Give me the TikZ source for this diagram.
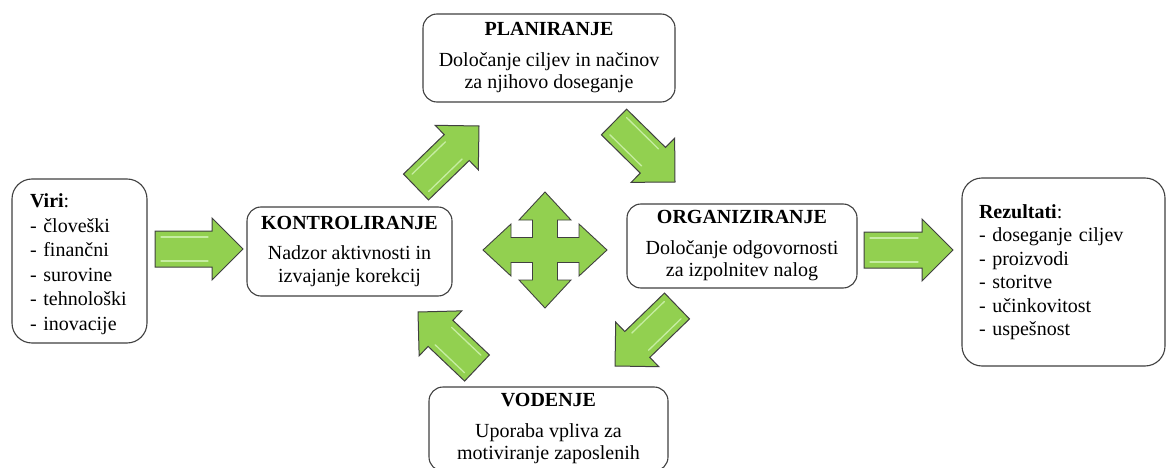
\documentclass[tikz,border=0pt]{standalone}
\usepackage{fontspec}
\setmainfont{Liberation Serif}
\usetikzlibrary{calc}

\definecolor{arrowgreen}{HTML}{92D050}
\definecolor{hilitegreen}{HTML}{C6EDA2}
\definecolor{boxline}{HTML}{404040}

% block arrow from tail (#1) to tip (#2)
\newcommand{\blockarrow}[2]{%
  \coordinate (hb) at ($(#2)!31pt!(#1)$);
  \draw[bigarrow] ($(#1)!18pt!90:(#2)$) -- ($(hb)!18pt!-90:(#1)$) -- ($(hb)!31pt!-90:(#1)$)
    -- (#2) -- ($(hb)!31pt!90:(#1)$) -- ($(hb)!18pt!90:(#1)$) -- ($(#1)!18pt!-90:(#2)$) -- cycle;
  \coordinate (t0) at ($(#1)!6pt!(#2)$);
  \coordinate (h0) at ($(hb)!4pt!(#1)$);
  \draw[hilite] ($(t0)!12pt!90:(#2)$) -- ($(h0)!12pt!-90:(#1)$);
  \draw[hilite] ($(t0)!12pt!-90:(#2)$) -- ($(h0)!12pt!90:(#1)$);
}

\begin{document}
\begin{tikzpicture}[
  x=1pt, y=-1pt,
  stepbox/.style={draw=boxline, line width=1.1pt, rounded corners=14pt, fill=white,
    align=center, inner sep=0pt, font=\fontsize{20}{22.5}\selectfont},
  listbox/.style={draw=boxline, line width=1.1pt, rounded corners=20pt, fill=white,
    align=left, inner ysep=0pt},
  bigarrow/.style={draw=boxline, line width=1pt, fill=arrowgreen, line join=miter},
  hilite/.style={draw=hilitegreen, line width=1.3pt, line cap=round},
  crossarrow/.style={draw=boxline, line width=0.9pt, fill=arrowgreen}
]
  \useasboundingbox (0,0) rectangle (1167,468);

  % Boxes
  \node[listbox, font=\fontsize{20}{24.5}\selectfont, text width=99pt, inner xsep=18pt,
    minimum height=164pt] (viri) at (79.5,261)
    {\rule{0pt}{20pt}\textbf{Viri}:\\- človeški\\- finančni\\- surovine\\- tehnološki\\- inovacije};
  \node[stepbox, minimum width=205pt, minimum height=89pt] (kontrol) at (349.5,251.5)
    {\textbf{KONTROLIRANJE}\\[8pt]Nadzor aktivnosti in\\izvajanje korekcij};
  \node[stepbox, minimum width=252pt, minimum height=88pt] (plan) at (549,58)
    {\textbf{PLANIRANJE}\\[8pt]Določanje ciljev in načinov\\za njihovo doseganje};
  \node[stepbox, minimum width=230pt, minimum height=84pt] (org) at (742,246)
    {\textbf{ORGANIZIRANJE}\\[8pt]Določanje odgovornosti\\za izpolnitev nalog};
  \node[stepbox, minimum width=239pt, minimum height=84pt] (vod) at (548.5,429)
    {\textbf{VODENJE}\\[8pt]Uporaba vpliva za\\motiviranje zaposlenih};
  \node[listbox, font=\fontsize{20}{23.5}\selectfont, text width=169pt, inner xsep=17pt,
    minimum height=188pt] (rez) at (1063.5,272)
    {\textbf{Rezultati}:\\- doseganje ciljev\\- proizvodi\\- storitve\\- učinkovitost\\- uspešnost};

  % Arrow ends
  \coordinate (viri-out) at (155,249);
  \coordinate (kontrol-in) at (243,249);
  \coordinate (kontrol-out) at (416,187);
  \coordinate (plan-in) at (479,126);
  \coordinate (plan-out) at (614,122);
  \coordinate (org-in) at (675,182);
  \coordinate (org-down) at (677,306);
  \coordinate (vod-in) at (615,366);
  \coordinate (vod-out) at (477,368);
  \coordinate (kontrol-back) at (418,312);
  \coordinate (org-out) at (864,250);
  \coordinate (rez-in) at (953,250);

  % Arrows
  \blockarrow{viri-out}{kontrol-in}
  \blockarrow{kontrol-out}{plan-in}
  \blockarrow{plan-out}{org-in}
  \blockarrow{org-down}{vod-in}
  \blockarrow{vod-out}{kontrol-back}
  \blockarrow{org-out}{rez-in}

  % Four-way arrow in the middle
  \draw[crossarrow, shift={(545,250)}]
    (0,-58) -- (26,-30) -- (12.5,-30) -- (12.5,-12.5) -- (34,-12.5) -- (34,-26) -- (62,0)
    -- (34,26) -- (34,12.5) -- (12.5,12.5) -- (12.5,30) -- (26,30) -- (0,58)
    -- (-26,30) -- (-12.5,30) -- (-12.5,12.5) -- (-34,12.5) -- (-34,26) -- (-62,0)
    -- (-34,-26) -- (-34,-12.5) -- (-12.5,-12.5) -- (-12.5,-30) -- (-26,-30) -- cycle;

\end{tikzpicture}
\end{document}
